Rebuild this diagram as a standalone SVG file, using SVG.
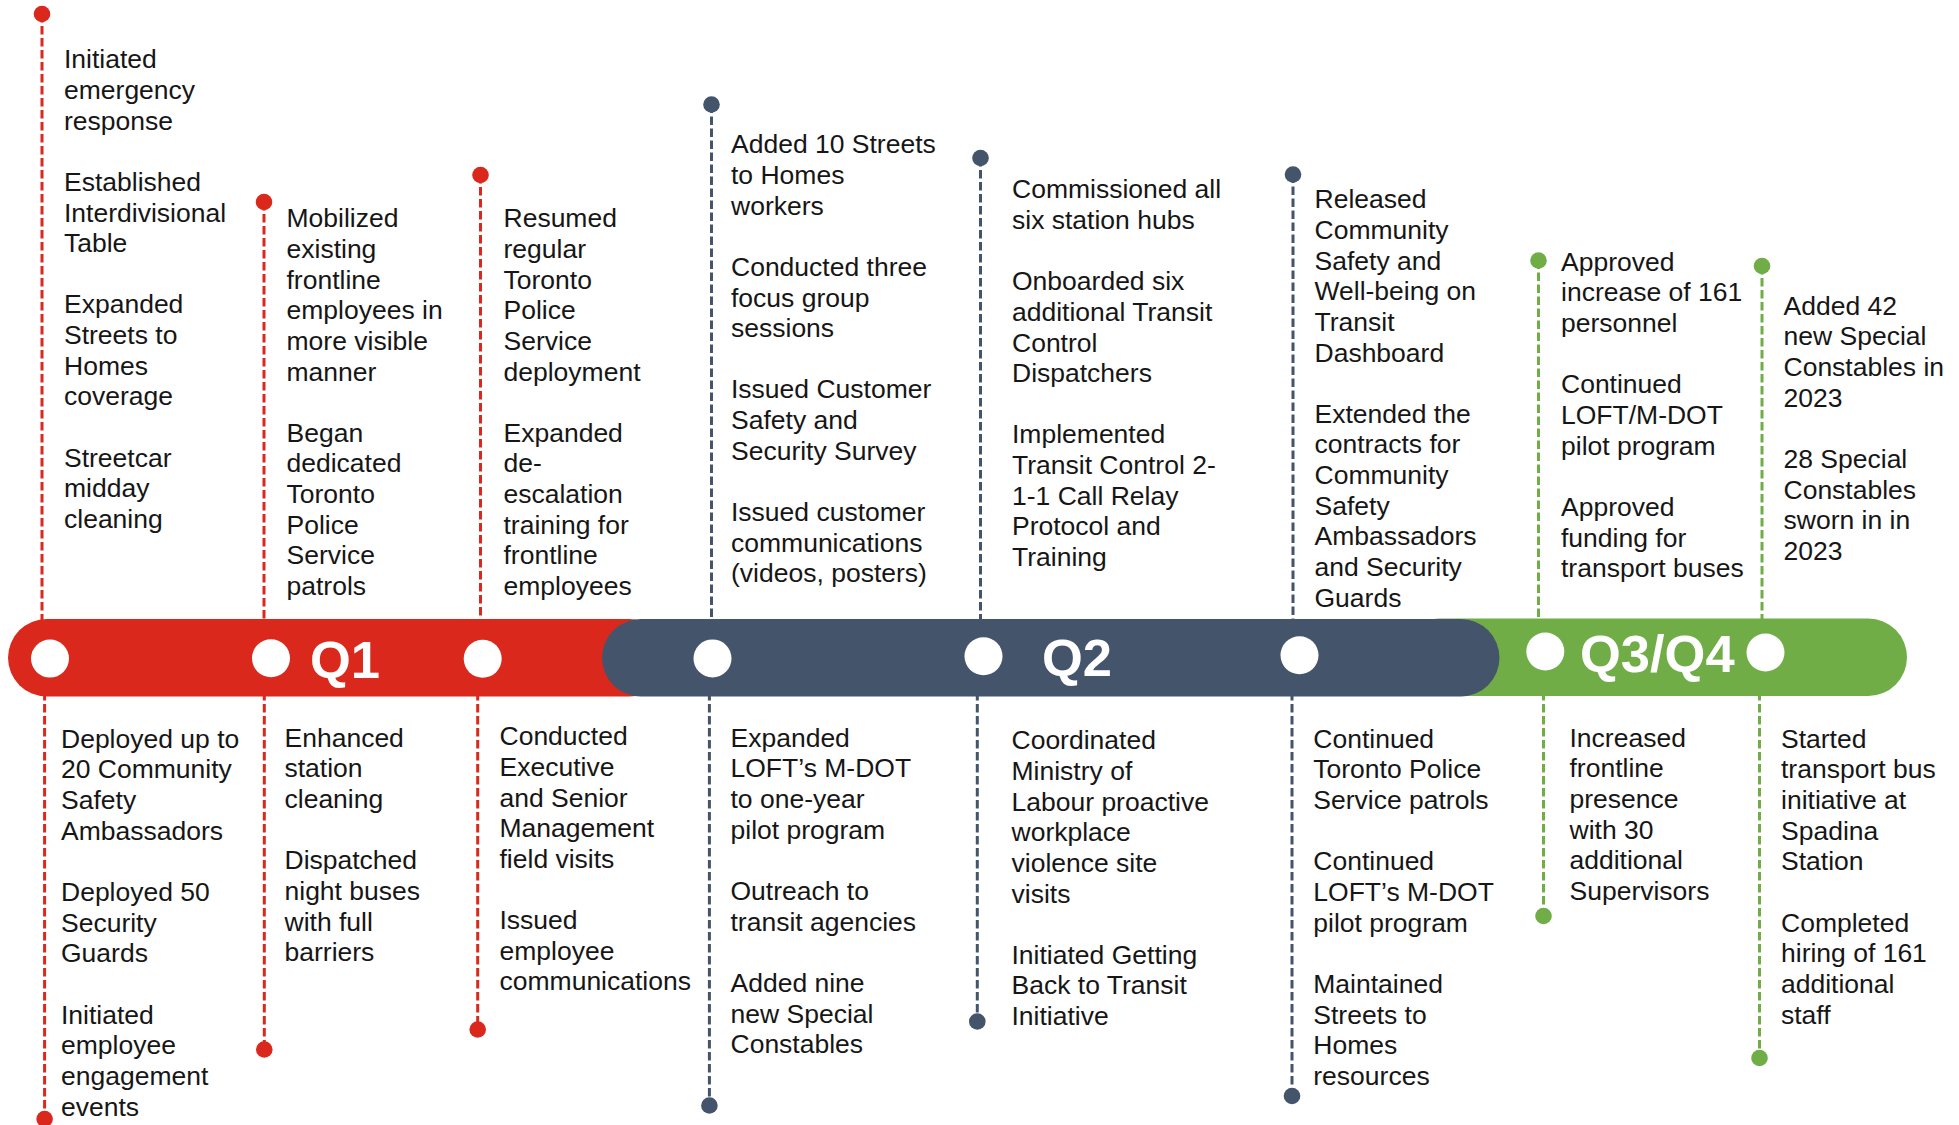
<svg xmlns="http://www.w3.org/2000/svg" width="1959" height="1125" viewBox="0 0 1959 1125">
  <style>
    .note { font-family: "Liberation Sans", Arial, sans-serif; font-size: 26.5px; fill: #161616; transform: translateY(-1.2px); }
    .qlabel { font-family: "Liberation Sans", Arial, sans-serif; font-size: 52.5px; font-weight: bold; fill: #ffffff; }
    .stop { fill: #ffffff; }
    .lead { fill: none; stroke-width: 3; stroke-dasharray: 8.5 3.5; }
    .lead.q1 { stroke: #DA291C; }
    .lead.q2 { stroke: #44546A; }
    .lead.q3 { stroke: #70AD47; }
  </style>
  <defs>
    <marker id="dot-q1" viewBox="-10 -10 20 20" refX="0" refY="0" markerWidth="20" markerHeight="20" markerUnits="userSpaceOnUse">
      <circle r="8.3" fill="#DA291C"/>
    </marker>
    <marker id="dot-q2" viewBox="-10 -10 20 20" refX="0" refY="0" markerWidth="20" markerHeight="20" markerUnits="userSpaceOnUse">
      <circle r="8.3" fill="#44546A"/>
    </marker>
    <marker id="dot-q3" viewBox="-10 -10 20 20" refX="0" refY="0" markerWidth="20" markerHeight="20" markerUnits="userSpaceOnUse">
      <circle r="8.3" fill="#70AD47"/>
    </marker>
  </defs>

  <rect width="1959" height="1125" fill="#ffffff"/>

  <!-- dashed leader lines from each milestone to its note -->
  <g id="connectors">
    <path class="lead q1" d="M42 14 V640" marker-start="url(#dot-q1)"/>
    <path class="lead q1" d="M44.6 680 V1119" marker-end="url(#dot-q1)"/>
    <path class="lead q1" d="M264 202 V640" marker-start="url(#dot-q1)"/>
    <path class="lead q1" d="M264.3 680 V1049.5" marker-end="url(#dot-q1)"/>
    <path class="lead q1" d="M480.5 175 V640" marker-start="url(#dot-q1)"/>
    <path class="lead q1" d="M477.7 680 V1029.5" marker-end="url(#dot-q1)"/>

    <path class="lead q2" d="M711.5 104.5 V640" marker-start="url(#dot-q2)"/>
    <path class="lead q2" d="M709.4 680 V1105.5" marker-end="url(#dot-q2)"/>
    <path class="lead q2" d="M980.5 158 V640" marker-start="url(#dot-q2)"/>
    <path class="lead q2" d="M977.3 680 V1021.5" marker-end="url(#dot-q2)"/>
    <path class="lead q2" d="M1293 174.5 V640" marker-start="url(#dot-q2)"/>
    <path class="lead q2" d="M1292 680 V1096" marker-end="url(#dot-q2)"/>

    <path class="lead q3" d="M1538.5 260.5 V640" marker-start="url(#dot-q3)"/>
    <path class="lead q3" d="M1543.5 680 V916" marker-end="url(#dot-q3)"/>
    <path class="lead q3" d="M1762 266 V640" marker-start="url(#dot-q3)"/>
    <path class="lead q3" d="M1759.5 680 V1058" marker-end="url(#dot-q3)"/>
  </g>

  <!-- quarter bands of the timeline bar -->
  <g id="band-q1">
    <rect x="8" y="619" width="660" height="77.5" rx="38.75" fill="#DA291C"/>
    <circle class="stop" cx="50" cy="658.6" r="19"/>
    <circle class="stop" cx="271" cy="658.2" r="19"/>
    <circle class="stop" cx="482.7" cy="658.7" r="19"/>
    <text class="qlabel" x="310" y="677.5">Q1</text>
  </g>
  <g id="band-q3q4">
    <rect x="1400" y="618.5" width="507" height="77.5" rx="38.75" fill="#70AD47"/>
    <circle class="stop" cx="1545.3" cy="651.5" r="19"/>
    <circle class="stop" cx="1765.5" cy="652.5" r="19"/>
    <text class="qlabel" x="1580" y="672">Q3/Q4</text>
  </g>
  <g id="band-q2">
    <rect x="602" y="619" width="897.5" height="77.5" rx="38.75" fill="#44546A"/>
    <circle class="stop" cx="712.5" cy="658.4" r="19"/>
    <circle class="stop" cx="983.5" cy="656.2" r="19"/>
    <circle class="stop" cx="1299.5" cy="655.2" r="19"/>
    <text class="qlabel" x="1042" y="676">Q2</text>
  </g>

  <!-- Q1 notes -->
  <g id="q1-a-above">
    <text class="note"><tspan x="64" y="69.5">Initiated</tspan><tspan x="64" dy="30.65">emergency</tspan><tspan x="64" dy="30.65">response</tspan><tspan x="64" dy="61.3">Established</tspan><tspan x="64" dy="30.65">Interdivisional</tspan><tspan x="64" dy="30.65">Table</tspan><tspan x="64" dy="61.3">Expanded</tspan><tspan x="64" dy="30.65">Streets to</tspan><tspan x="64" dy="30.65">Homes</tspan><tspan x="64" dy="30.65">coverage</tspan><tspan x="64" dy="61.3">Streetcar</tspan><tspan x="64" dy="30.65">midday</tspan><tspan x="64" dy="30.65">cleaning</tspan></text>
  </g>
  <g id="q1-b-above">
    <text class="note"><tspan x="286.5" y="228.5">Mobilized</tspan><tspan x="286.5" dy="30.65">existing</tspan><tspan x="286.5" dy="30.65">frontline</tspan><tspan x="286.5" dy="30.65">employees in</tspan><tspan x="286.5" dy="30.65">more visible</tspan><tspan x="286.5" dy="30.65">manner</tspan><tspan x="286.5" dy="61.3">Began</tspan><tspan x="286.5" dy="30.65">dedicated</tspan><tspan x="286.5" dy="30.65">Toronto</tspan><tspan x="286.5" dy="30.65">Police</tspan><tspan x="286.5" dy="30.65">Service</tspan><tspan x="286.5" dy="30.65">patrols</tspan></text>
  </g>
  <g id="q1-c-above">
    <text class="note"><tspan x="503.5" y="228.5">Resumed</tspan><tspan x="503.5" dy="30.65">regular</tspan><tspan x="503.5" dy="30.65">Toronto</tspan><tspan x="503.5" dy="30.65">Police</tspan><tspan x="503.5" dy="30.65">Service</tspan><tspan x="503.5" dy="30.65">deployment</tspan><tspan x="503.5" dy="61.3">Expanded</tspan><tspan x="503.5" dy="30.65">de-</tspan><tspan x="503.5" dy="30.65">escalation</tspan><tspan x="503.5" dy="30.65">training for</tspan><tspan x="503.5" dy="30.65">frontline</tspan><tspan x="503.5" dy="30.65">employees</tspan></text>
  </g>
  <g id="q1-a-below">
    <text class="note"><tspan x="61" y="749">Deployed up to</tspan><tspan x="61" dy="30.65">20 Community</tspan><tspan x="61" dy="30.65">Safety</tspan><tspan x="61" dy="30.65">Ambassadors</tspan><tspan x="61" dy="61.3">Deployed 50</tspan><tspan x="61" dy="30.65">Security</tspan><tspan x="61" dy="30.65">Guards</tspan><tspan x="61" dy="61.3">Initiated</tspan><tspan x="61" dy="30.65">employee</tspan><tspan x="61" dy="30.65">engagement</tspan><tspan x="61" dy="30.65">events</tspan></text>
  </g>
  <g id="q1-b-below">
    <text class="note"><tspan x="284.5" y="748">Enhanced</tspan><tspan x="284.5" dy="30.65">station</tspan><tspan x="284.5" dy="30.65">cleaning</tspan><tspan x="284.5" dy="61.3">Dispatched</tspan><tspan x="284.5" dy="30.65">night buses</tspan><tspan x="284.5" dy="30.65">with full</tspan><tspan x="284.5" dy="30.65">barriers</tspan></text>
  </g>
  <g id="q1-c-below">
    <text class="note"><tspan x="499.5" y="746.5">Conducted</tspan><tspan x="499.5" dy="30.65">Executive</tspan><tspan x="499.5" dy="30.65">and Senior</tspan><tspan x="499.5" dy="30.65">Management</tspan><tspan x="499.5" dy="30.65">field visits</tspan><tspan x="499.5" dy="61.3">Issued</tspan><tspan x="499.5" dy="30.65">employee</tspan><tspan x="499.5" dy="30.65">communications</tspan></text>
  </g>

  <!-- Q2 notes -->
  <g id="q2-a-above">
    <text class="note"><tspan x="731" y="154.5">Added 10 Streets</tspan><tspan x="731" dy="30.65">to Homes</tspan><tspan x="731" dy="30.65">workers</tspan><tspan x="731" dy="61.3">Conducted three</tspan><tspan x="731" dy="30.65">focus group</tspan><tspan x="731" dy="30.65">sessions</tspan><tspan x="731" dy="61.3">Issued Customer</tspan><tspan x="731" dy="30.65">Safety and</tspan><tspan x="731" dy="30.65">Security Survey</tspan><tspan x="731" dy="61.3">Issued customer</tspan><tspan x="731" dy="30.65">communications</tspan><tspan x="731" dy="30.65">(videos, posters)</tspan></text>
  </g>
  <g id="q2-b-above">
    <text class="note"><tspan x="1012" y="199.5">Commissioned all</tspan><tspan x="1012" dy="30.65">six station hubs</tspan><tspan x="1012" dy="61.3">Onboarded six</tspan><tspan x="1012" dy="30.65">additional Transit</tspan><tspan x="1012" dy="30.65">Control</tspan><tspan x="1012" dy="30.65">Dispatchers</tspan><tspan x="1012" dy="61.3">Implemented</tspan><tspan x="1012" dy="30.65">Transit Control 2-</tspan><tspan x="1012" dy="30.65">1-1 Call Relay</tspan><tspan x="1012" dy="30.65">Protocol and</tspan><tspan x="1012" dy="30.65">Training</tspan></text>
  </g>
  <g id="q2-c-above">
    <text class="note"><tspan x="1314.5" y="209.5">Released</tspan><tspan x="1314.5" dy="30.65">Community</tspan><tspan x="1314.5" dy="30.65">Safety and</tspan><tspan x="1314.5" dy="30.65">Well-being on</tspan><tspan x="1314.5" dy="30.65">Transit</tspan><tspan x="1314.5" dy="30.65">Dashboard</tspan><tspan x="1314.5" dy="61.3">Extended the</tspan><tspan x="1314.5" dy="30.65">contracts for</tspan><tspan x="1314.5" dy="30.65">Community</tspan><tspan x="1314.5" dy="30.65">Safety</tspan><tspan x="1314.5" dy="30.65">Ambassadors</tspan><tspan x="1314.5" dy="30.65">and Security</tspan><tspan x="1314.5" dy="30.65">Guards</tspan></text>
  </g>
  <g id="q2-a-below">
    <text class="note"><tspan x="730.5" y="748">Expanded</tspan><tspan x="730.5" dy="30.65">LOFT’s M-DOT</tspan><tspan x="730.5" dy="30.65">to one-year</tspan><tspan x="730.5" dy="30.65">pilot program</tspan><tspan x="730.5" dy="61.3">Outreach to</tspan><tspan x="730.5" dy="30.65">transit agencies</tspan><tspan x="730.5" dy="61.3">Added nine</tspan><tspan x="730.5" dy="30.65">new Special</tspan><tspan x="730.5" dy="30.65">Constables</tspan></text>
  </g>
  <g id="q2-b-below">
    <text class="note"><tspan x="1011.5" y="750.5">Coordinated</tspan><tspan x="1011.5" dy="30.65">Ministry of</tspan><tspan x="1011.5" dy="30.65">Labour proactive</tspan><tspan x="1011.5" dy="30.65">workplace</tspan><tspan x="1011.5" dy="30.65">violence site</tspan><tspan x="1011.5" dy="30.65">visits</tspan><tspan x="1011.5" dy="61.3">Initiated Getting</tspan><tspan x="1011.5" dy="30.65">Back to Transit</tspan><tspan x="1011.5" dy="30.65">Initiative</tspan></text>
  </g>
  <g id="q2-c-below">
    <text class="note"><tspan x="1313.3" y="749">Continued</tspan><tspan x="1313.3" dy="30.65">Toronto Police</tspan><tspan x="1313.3" dy="30.65">Service patrols</tspan><tspan x="1313.3" dy="61.3">Continued</tspan><tspan x="1313.3" dy="30.65">LOFT’s M-DOT</tspan><tspan x="1313.3" dy="30.65">pilot program</tspan><tspan x="1313.3" dy="61.3">Maintained</tspan><tspan x="1313.3" dy="30.65">Streets to</tspan><tspan x="1313.3" dy="30.65">Homes</tspan><tspan x="1313.3" dy="30.65">resources</tspan></text>
  </g>

  <!-- Q3/Q4 notes -->
  <g id="q3-a-above">
    <text class="note"><tspan x="1561" y="272">Approved</tspan><tspan x="1561" dy="30.65">increase of 161</tspan><tspan x="1561" dy="30.65">personnel</tspan><tspan x="1561" dy="61.3">Continued</tspan><tspan x="1561" dy="30.65">LOFT/M-DOT</tspan><tspan x="1561" dy="30.65">pilot program</tspan><tspan x="1561" dy="61.3">Approved</tspan><tspan x="1561" dy="30.65">funding for</tspan><tspan x="1561" dy="30.65">transport buses</tspan></text>
  </g>
  <g id="q3-b-above">
    <text class="note"><tspan x="1783.5" y="316">Added 42</tspan><tspan x="1783.5" dy="30.65">new Special</tspan><tspan x="1783.5" dy="30.65">Constables in</tspan><tspan x="1783.5" dy="30.65">2023</tspan><tspan x="1783.5" dy="61.3">28 Special</tspan><tspan x="1783.5" dy="30.65">Constables</tspan><tspan x="1783.5" dy="30.65">sworn in in</tspan><tspan x="1783.5" dy="30.65">2023</tspan></text>
  </g>
  <g id="q3-a-below">
    <text class="note"><tspan x="1569.5" y="748">Increased</tspan><tspan x="1569.5" dy="30.65">frontline</tspan><tspan x="1569.5" dy="30.65">presence</tspan><tspan x="1569.5" dy="30.65">with 30</tspan><tspan x="1569.5" dy="30.65">additional</tspan><tspan x="1569.5" dy="30.65">Supervisors</tspan></text>
  </g>
  <g id="q3-b-below">
    <text class="note"><tspan x="1781" y="749">Started</tspan><tspan x="1781" dy="30.65">transport bus</tspan><tspan x="1781" dy="30.65">initiative at</tspan><tspan x="1781" dy="30.65">Spadina</tspan><tspan x="1781" dy="30.65">Station</tspan><tspan x="1781" dy="61.3">Completed</tspan><tspan x="1781" dy="30.65">hiring of 161</tspan><tspan x="1781" dy="30.65">additional</tspan><tspan x="1781" dy="30.65">staff</tspan></text>
  </g>
</svg>
